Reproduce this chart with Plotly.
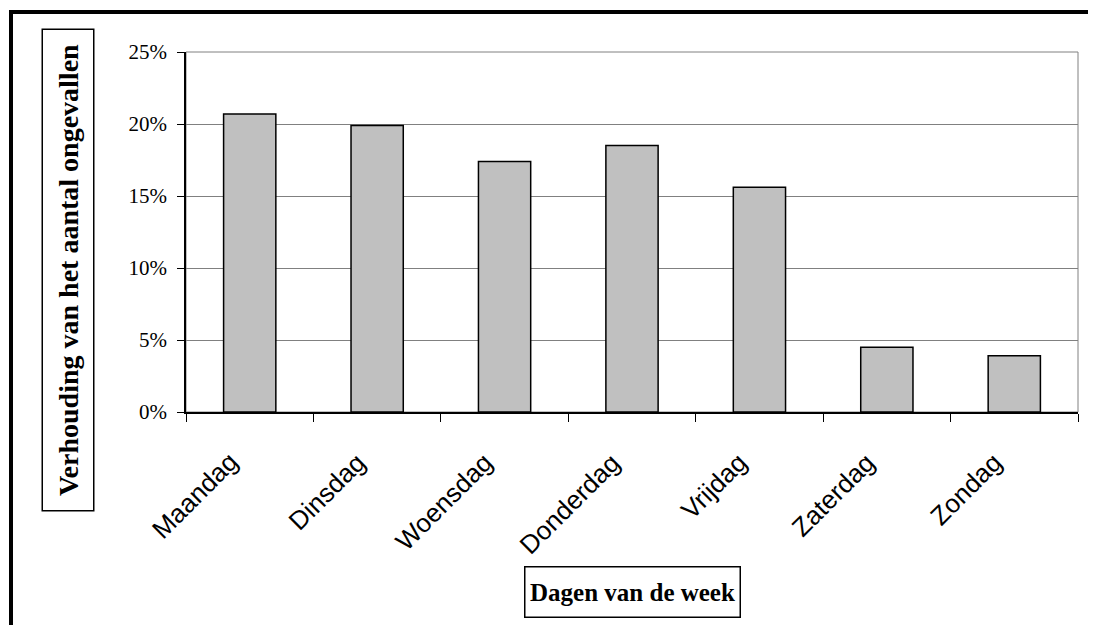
import plotly.graph_objects as go

# ---- data ----
days = ["Maandag", "Dinsdag", "Woensdag", "Donderdag", "Vrijdag", "Zaterdag", "Zondag"]
share = [20.7, 19.9, 17.4, 18.5, 15.6, 4.5, 3.9]
y_ticks = [0, 5, 10, 15, 20, 25]
y_tick_labels = ["0%", "5%", "10%", "15%", "20%", "25%"]
y_title = "Verhouding van het aantal ongevallen"
x_title = "Dagen van de week"

# ---- layout geometry (pixels in the 1096x625 reference) ----
OFF = 8  # default page body margin
W, H = 1096 - OFF, 625 - OFF
L, R, T, B = 186, 1078, 52, 412  # plot area in reference pixels


def px(x):
    return (x - L) / (R - L)


def py(y):
    return (B - y) / (B - T)


fig = go.Figure(
    go.Bar(
        x=days,
        y=share,
        width=0.41,
        marker=dict(color="#C0C0C0", line=dict(color="black", width=1.5)),
        hoverinfo="x+y",
    )
)

fig.update_layout(
    width=W,
    height=H,
    margin=dict(l=L - OFF, r=1096 - R, t=T - OFF, b=625 - B, pad=0),
    plot_bgcolor="white",
    paper_bgcolor="white",
    showlegend=False,
)

fig.update_xaxes(
    range=[-0.5, len(days) - 0.5],
    autorange=False,
    showline=True,
    linecolor="black",
    linewidth=1.5,
    ticks="outside",
    tickson="boundaries",
    ticklen=8,
    tickwidth=1,
    tickcolor="black",
    showticklabels=False,
    showgrid=False,
)

fig.update_yaxes(
    range=[0, 25],
    autorange=False,
    tickvals=y_ticks,
    ticktext=y_tick_labels,
    showline=True,
    linecolor="black",
    linewidth=1.5,
    ticks="outside",
    ticklen=7,
    tickcolor="black",
    showgrid=True,
    gridcolor="#808080",
    gridwidth=1,
    zeroline=False,
    ticklabelstandoff=6,
    tickfont=dict(family="Liberation Serif, Times New Roman", size=21, color="black"),
)

shapes = [
    # plot area border (grey)
    dict(type="rect", xref="x domain", yref="y domain", x0=0, x1=1, y0=0, y1=1,
         line=dict(color="#808080", width=1), layer="below"),
    # outer chart frame (top and left visible)
    dict(type="line", xref="paper", yref="paper", x0=px(11), x1=px(11), y0=py(660), y1=py(12),
         line=dict(color="black", width=4)),
    dict(type="line", xref="paper", yref="paper", x0=px(9), x1=px(1120), y0=py(12), y1=py(12),
         line=dict(color="black", width=4)),
]
fig.update_layout(shapes=shapes)

# rotated category labels
for d in days:
    fig.add_annotation(
        x=d, xref="x", y=py(446), yref="paper",
        text=d, textangle=-45, showarrow=False,
        xanchor="right", yanchor="top", xshift=-5,
        font=dict(family="Liberation Sans, Arial", size=26, color="black"),
        borderpad=0,
    )

fig.add_annotation(
    x=px(68), y=py(270.5), xref="paper", yref="paper",
    text="<b>" + y_title + "</b>", textangle=-90, showarrow=False,
    font=dict(family="Liberation Serif, Times New Roman", size=28, color="black"),
    bordercolor="black", borderwidth=1.5, borderpad=0, width=480, height=50,
    xanchor="center", yanchor="middle", bgcolor="white",
)
fig.add_annotation(
    x=px(632), y=py(591.7), xref="paper", yref="paper",
    text="<b>" + x_title + "</b>", showarrow=False,
    font=dict(family="Liberation Serif, Times New Roman", size=25, color="black"),
    bordercolor="black", borderwidth=1.5, borderpad=0, width=214, height=49,
    xanchor="center", yanchor="middle", bgcolor="white",
)

fig.write_html("out.html")
